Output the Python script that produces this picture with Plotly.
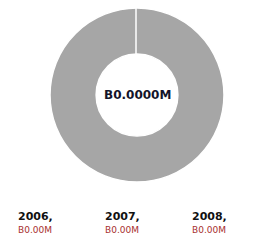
import plotly.graph_objects as go

years = ["2006", "2007", "2008"]
values = [0.0, 0.0, 0.0]
total_label = "B0.0000M"
value_labels = ["B0.00M", "B0.00M", "B0.00M"]

W, H = 267, 240
OX, OY = 8, 7  # page offset compensation

def px(x):
    return (x - OX) / W

def py(y, oy=OY):
    return 1 - (y - oy) / H

placeholder = [1] if sum(values) == 0 else values

cx, cy, R, HOLE = 137, 94, 87, 0.47
fig = go.Figure()
fig.add_trace(go.Pie(
    values=placeholder,
    labels=["empty"] if sum(values) == 0 else years,
    hole=HOLE,
    sort=False,
    direction="clockwise",
    rotation=0,
    marker=dict(colors=["#A6A6A6"], line=dict(color="white", width=1.5)),
    textinfo="none",
    hoverinfo="none",
    showlegend=False,
    domain=dict(x=[px(cx - R), px(cx + R)], y=[py(cy + R), py(cy - R)]),
))

# slice seam at the 12 o'clock start of the ring
fig.add_shape(type="line", xref="paper", yref="paper",
              x0=px(cx - 1), x1=px(cx - 1),
              y0=py(cy - R - 1), y1=py(cy - R * HOLE),
              line=dict(color="white", width=1.5), layer="above")

annotations = [dict(
    text="<b>" + total_label + "</b>", x=px(cx), y=py(cy), xref="paper", yref="paper",
    showarrow=False, font=dict(family="DejaVu Sans", size=12, color="#14142a"),
)]
xs = [16, 103, 190]
for i, (yr, vl) in enumerate(zip(years, value_labels)):
    annotations.append(dict(
        text="<b>" + yr + ",</b>", x=px(xs[i]), y=py(217, 0), xref="paper", yref="paper",
        xanchor="left", showarrow=False,
        font=dict(family="DejaVu Sans", size=11, color="#111111"),
    ))
    annotations.append(dict(
        text=vl, x=px(xs[i]), y=py(229, 0), xref="paper", yref="paper",
        xanchor="left", showarrow=False,
        font=dict(family="DejaVu Sans", size=9, color="#A8302E"),
    ))

fig.update_layout(
    width=W, height=H,
    margin=dict(l=0, r=0, t=0, b=0),
    paper_bgcolor="white", plot_bgcolor="white",
    annotations=annotations,
)
fig.write_html("out.html")
